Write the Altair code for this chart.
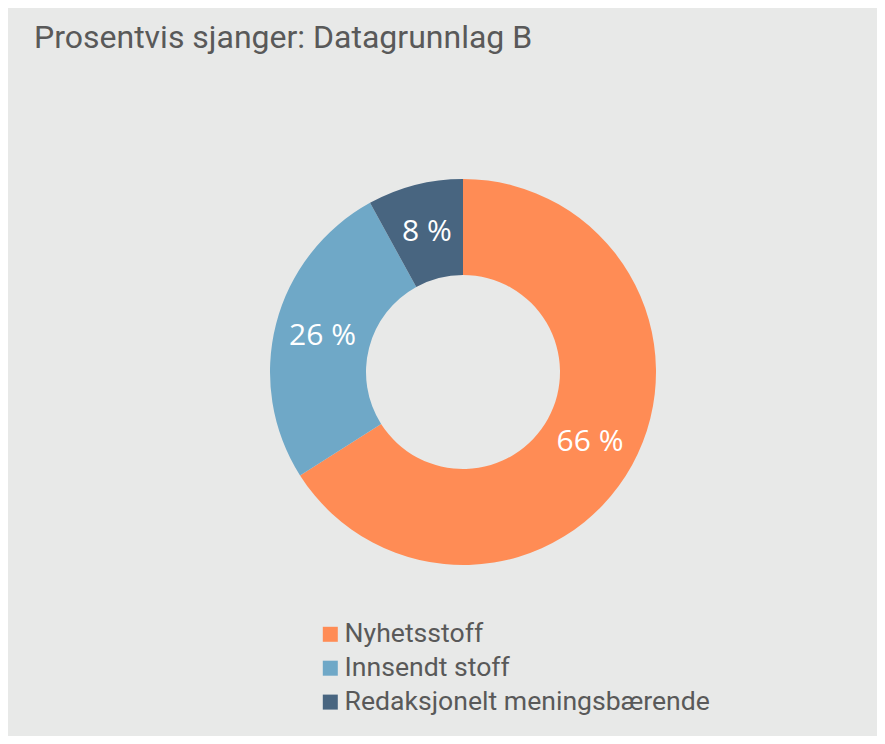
import altair as alt
import pandas as pd

categories = ["Nyhetsstoff", "Innsendt stoff", "Redaksjonelt meningsbærende"]
values = [66, 26, 8]
labels = ["66 %", "26 %", "8 %"]
colors = ["#FF8C55", "#6FA8C7", "#486580"]

df = pd.DataFrame({
    "sjanger": categories,
    "prosent": values,
    "etikett": labels,
    "rekkefolge": list(range(len(categories))),
})

base = alt.Chart(df).encode(
    theta=alt.Theta("prosent:Q", stack=True),
    order=alt.Order("rekkefolge:O"),
)

arcs = base.mark_arc(innerRadius=97, outerRadius=193, stroke=None).encode(
    color=alt.Color(
        "sjanger:N",
        scale=alt.Scale(domain=categories, range=colors),
        legend=alt.Legend(
            title=None,
            orient="none",
            legendX=268,
            legendY=549,
            symbolType="square",
            symbolSize=225,
            symbolStrokeWidth=0,
            labelFontSize=26.6,
            labelFont="Roboto",
            labelColor="#595959",
            labelLimit=500,
            rowPadding=6.9,
            symbolOffset=0,
            labelOffset=1,
            padding=0,
        ),
    )
)

text = base.mark_text(
    radius=145, fontSize=30, font="Open Sans", color="white"
).encode(text="etikett:N")

chart = (
    (arcs + text)
    .properties(
        width=828,
        height=600,
        padding={"left": 41, "top": 64, "right": 0, "bottom": 64},
        autosize=alt.AutoSizeParams(type="none"),
        background="#E8E9E8",
        title=alt.Title(
            "Prosentvis sjanger: Datagrunnlag B",
            anchor="start",
            frame="group",
            font="Roboto",
            fontSize=32,
            fontWeight="normal",
            color="#595959",
            dx=-15,
            offset=17,
        ),
    )
    .configure_view(stroke=None)
)

chart.save("out.html", embed_options={"renderer": "svg", "actions": False})
